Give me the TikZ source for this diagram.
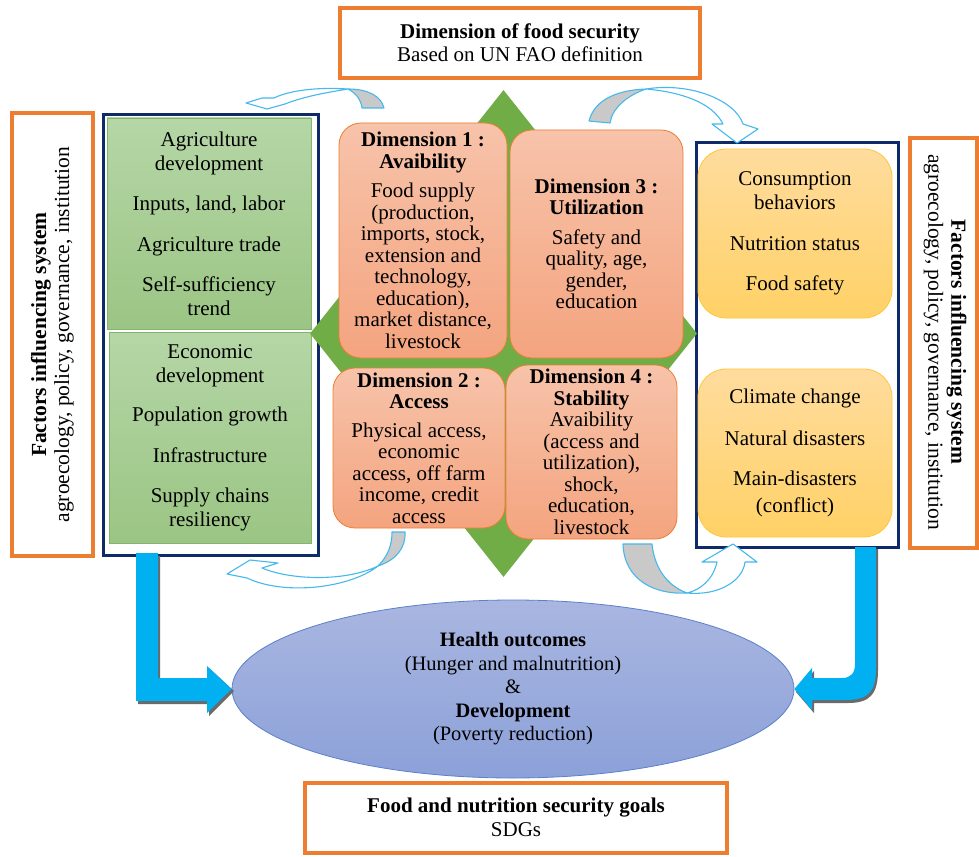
\documentclass[tikz,border=0pt]{standalone}
\usepackage{fontspec}
\setmainfont{Liberation Serif}
\usetikzlibrary{shapes.geometric,calc}
\definecolor{orangeC}{HTML}{ED7D31}
\definecolor{navyC}{HTML}{0E2A68}
\definecolor{greenT}{HTML}{B5D6A6}
\definecolor{greenB}{HTML}{9BC584}
\definecolor{greenD}{HTML}{84B56A}
\definecolor{diamondC}{HTML}{70AD47}
\definecolor{dimT}{HTML}{F7C3AA}
\definecolor{dimB}{HTML}{F4A47F}
\definecolor{yelT}{HTML}{FFDC9E}
\definecolor{yelB}{HTML}{FFD166}
\definecolor{yelD}{HTML}{FFC63A}
\definecolor{ellT}{HTML}{A9B6E0}
\definecolor{ellB}{HTML}{8CA1D9}
\definecolor{ellD}{HTML}{5B80CC}
\definecolor{blueC}{HTML}{00B0F0}
\definecolor{shadowC}{HTML}{6A6A6A}
\definecolor{arrowC}{HTML}{45B9EC}
\definecolor{grayC}{HTML}{C9C9C9}
\begin{document}
\begin{tikzpicture}[x=1pt,y=-1pt,
  orangebox/.style={draw=orangeC, line width=4pt, fill=white, inner sep=0pt},
  navybox/.style={draw=navyC, line width=3pt, fill=white, inner sep=0pt},
  greenbox/.style={draw=greenD, line width=0.8pt, top color=greenT, bottom color=greenB, inner sep=0pt, align=center, font=\fontsize{21}{24}\selectfont},
  dimbox/.style={draw=orangeC, line width=0.8pt, top color=dimT, bottom color=dimB, rounded corners=22pt, inner sep=0pt, align=center, font=\fontsize{21}{21.5}\selectfont},
  yelbox/.style={draw=yelD, line width=0.8pt, top color=yelT, bottom color=yelB, rounded corners=28pt, inner sep=0pt, align=center, font=\fontsize{21}{24}\selectfont},
  curvearrow/.style={draw=arrowC, line width=1.1pt, line join=round},
  sidetext/.style={align=center, font=\fontsize{21.5}{23}\selectfont, inner sep=0pt}
]
\useasboundingbox (0,0) rectangle (979,856);
\fill[white] (0,0) rectangle (979,856);

% top and bottom boxes
\node[orangebox, minimum width=360pt, minimum height=70pt, align=center, font=\fontsize{21}{23}\selectfont] (top) at (520,43) {\textbf{Dimension of food security}\\Based on UN FAO definition};
\node[orangebox, minimum width=422pt, minimum height=70pt, align=center, font=\fontsize{21}{24}\selectfont] (bot) at (516,817.5) {\textbf{Food and nutrition security goals}\\SDGs};

% side boxes
\node[orangebox, minimum width=81pt, minimum height=443pt] (lside) at (52.5,334.5) {};
\node[sidetext, rotate=90] (ltext) at (lside.center) {\textbf{Factors influencing system}\\agroecology, policy, governance, institution};
\node[orangebox, minimum width=67pt, minimum height=410pt] (rside) at (943,343) {};
\node[sidetext, rotate=-90] (rtext) at (945,342) {\textbf{Factors influencing system}\\agroecology, policy, governance, institution};

% navy frames
\node[navybox, minimum width=215pt, minimum height=440pt] (navyL) at (210.5,335) {};
\node[navybox, minimum width=202pt, minimum height=405pt] (navyR) at (797,344.5) {};

% green boxes
\node[greenbox, minimum width=204pt, minimum height=211pt] (g1) at (209,223.5) {Agriculture\\development\\[16pt]Inputs, land, labor\\[17pt]Agriculture trade\\[16pt]Self-sufficiency\\trend};
\node[greenbox, minimum width=202pt, minimum height=211pt] (g2) at (210,437.5) {Economic\\development\\[15pt]Population growth\\[17pt]Infrastructure\\[16pt]Supply chains\\resiliency};

% yellow boxes
\node[yelbox, minimum width=194pt, minimum height=169pt] (y1) at (795,233.5) {Consumption\\behaviors\\[17pt]Nutrition status\\[16pt]Food safety};
\node[yelbox, minimum width=194pt, minimum height=168pt] (y2) at (795,453) {Climate change\\[18pt]Natural disasters\\[16pt]Main-disasters\\[3pt](conflict)};

% diamond
\node[diamond, fill=diamondC, minimum width=387pt, minimum height=487pt, inner sep=0pt] (dia) at (503.5,333.5) {};

% dimension boxes
\node[dimbox, minimum width=168pt, minimum height=235pt] (d1) at (423,240.5) {\textbf{Dimension 1 :}\\\textbf{Avaibility}\\[8pt]Food supply\\(production,\\imports, stock,\\extension and\\technology,\\education),\\market distance,\\livestock};
\node[dimbox, minimum width=173pt, minimum height=228pt] (d3) at (596.5,244) {\textbf{Dimension 3 :}\\\textbf{Utilization}\\[8pt]Safety and\\quality, age,\\gender,\\education};
\node[dimbox, minimum width=172pt, minimum height=160pt] (d2) at (419,448) {\textbf{Dimension 2 :}\\\textbf{Access}\\[7pt]Physical access,\\economic\\access, off farm\\income, credit\\access};
\node[dimbox, minimum width=171pt, minimum height=174pt] (d4) at (591.5,452) {\textbf{Dimension 4 :}\\\textbf{Stability}\\Avaibility\\(access and\\utilization),\\shock,\\education,\\livestock};

% ellipse
\node[ellipse, minimum width=562pt, minimum height=178pt, top color=ellT, bottom color=ellB, draw=ellD, line width=0.8pt, inner sep=0pt, align=center, font=\fontsize{20.5}{23.5}\selectfont] (ell) at (513,689) {\textbf{Health outcomes}\\(Hunger and malnutrition)\\\&\\\textbf{Development}\\(Poverty reduction)};

% blue L arrows (shadow then arrow)
\fill[shadowC] (138,556) -- (160,556) -- (160,680) -- (209,680) -- (209,668) -- (234,691) -- (209,716) -- (209,704) -- (138,704) -- cycle;
\fill[blueC] (136,553) -- (158,553) -- (158,678) -- (207,678) -- (207,666) -- (ell.west) -- (207,713) -- (207,701) -- (136,701) -- cycle;
\fill[shadowC] (857,549) -- (878,549) -- (878,670) .. controls (878,694) and (870,703) .. (848,703) -- (814,703) -- (814,713) -- (796,692) -- (814,671) -- (814,681) -- (844,681) .. controls (853,681) and (857,676) .. (857,666) -- cycle;
\fill[blueC] (855,547) -- (876,547) -- (876,668) .. controls (876,692) and (868,700) .. (846,700) -- (812,700) -- (812,710) -- (ell.east) -- (812,668) -- (812,678) -- (842,678) .. controls (851,678) and (855,673) .. (855,664) -- cycle;

% curved arrows: top-left
\filldraw[curvearrow, fill=grayC] (384,108) .. controls (381,96) and (368,89) .. (348,89) .. controls (356,93) and (361,100) .. (362,108) -- cycle;
\filldraw[curvearrow, fill=white] (348,89) .. controls (320,87) and (290,90) .. (274,98) -- (262,98) -- (246,103) -- (267,109) -- (285,104) .. controls (305,96) and (330,92) .. (348,89) -- cycle;
% top-right
\filldraw[curvearrow, fill=grayC] (589,121) .. controls (595,98) and (620,90) .. (646,89) .. controls (628,95) and (612,108) .. (610,123) -- cycle;
\filldraw[curvearrow, fill=white] (646,89) .. controls (690,82) and (735,100) .. (743,124) -- (758,129) -- (737,143) -- (712,124) -- (723,124) .. controls (712,102) and (680,92) .. (646,89) -- cycle;
% bottom-left
\filldraw[curvearrow, fill=grayC] (405,532) .. controls (406,548) and (396,560) .. (378,566) .. controls (388,556) and (392,545) .. (392,532) -- cycle;
\filldraw[curvearrow, fill=white] (378,566) .. controls (350,588) and (285,596) .. (247,578) -- (227,574) -- (250,560) -- (278,563) -- (262,568) .. controls (290,580) and (345,582) .. (378,566) -- cycle;
% bottom-right
\filldraw[curvearrow, fill=grayC] (623,544) .. controls (624,580) and (655,595) .. (687,593) .. controls (665,585) and (654,565) .. (652,544) -- cycle;
\filldraw[curvearrow, fill=white] (687,593) .. controls (720,596) and (743,580) .. (745,562) -- (757,562) -- (733,544) -- (702,562) -- (717,562) .. controls (713,580) and (700,590) .. (687,593) -- cycle;
\end{tikzpicture}
\end{document}
